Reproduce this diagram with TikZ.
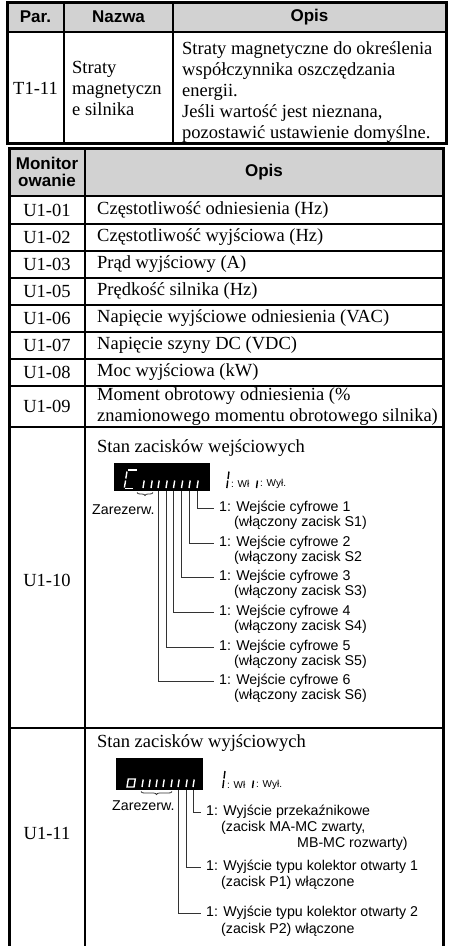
\documentclass[tikz,border=0pt]{standalone}
\usepackage{fontspec}
\setmainfont{Liberation Serif}
\newfontfamily\arialf{Liberation Sans}
\usetikzlibrary{decorations.pathreplacing}
\definecolor{hdrgray}{RGB}{210,210,210}
\tikzset{
  tabframe/.style={line width=3pt},
  tabrule/.style={line width=1.3pt},
  hdr/.style={font=\arialf\bfseries\fontsize{17}{18}\selectfont, inner sep=0pt, align=center},
  lbl/.style={font=\fontsize{18.5}{21}\selectfont, inner sep=0pt},
  txt/.style={font=\fontsize{18.5}{21}\selectfont, inner sep=0pt, anchor=west, align=left},
  labtxt/.style={font=\arialf\fontsize{14.2}{15}\selectfont, inner sep=0pt, anchor=west},
  legtxt/.style={font=\arialf\fontsize{10}{11}\selectfont, inner sep=0pt, anchor=west},
  lead/.style={line width=0.8pt, black!80},
  seg/.style={white, line width=1.4pt},
  segk/.style={black, line width=1.4pt},
  resbrace/.style={lead, decorate, decoration={brace, amplitude=3pt}},
}
\begin{document}
\begin{tikzpicture}[x=1pt,y=-1pt]
    \useasboundingbox (0,0) rectangle (451,946);
    % table T1-11
    \fill[hdrgray] (7,2) rectangle (446,32);
    \draw[tabrule] (7,32) -- (446,32);
    \draw[tabrule] (64,2) -- (64,143);
    \draw[tabrule] (173,2) -- (173,143);
    \draw[tabframe] (7,2) rectangle (446,143);
    \node[hdr] (hPar) at (35.5,17) {Par.};
    \node[hdr] (hNazwa) at (118.5,17) {Nazwa};
    \node[hdr] (hOpis) at (309.5,17) {Opis};
    \node[lbl] (pT) at (35.5,88) {T1-11};
    \node[txt] (pNazwa) at (72,88) {Straty\\magnetyczn\\e silnika};
    \node[txt] (pOpis) at (182,92) {Straty magnetyczne do określenia\\współczynnika oszczędzania\\energii.\\Jeśli wartość jest nieznana,\\pozostawić ustawienie domyślne.};
    % table U1
    \fill[hdrgray] (9,148) rectangle (443,196);
    \foreach \y in {196,224,251,278,305,332,359,386,427,728}
      \draw[tabrule] (9,\y) -- (443,\y);
    \draw[tabrule] (85,148) -- (85,953);
    \draw[tabframe] (9,148) rectangle (443,953);
    \node[hdr] (hMon) at (47,172) {Monitor\\[-1pt]owanie};
    \node[hdr] (hOpis2) at (264,172) {Opis};
    \node[lbl] (c01) at (47,210.5) {U1-01};
    \node[txt] (t01) at (97,210.5) {Częstotliwość odniesienia (Hz)};
    \node[lbl] (c02) at (47,237.5) {U1-02};
    \node[txt] (t02) at (97,237.5) {Częstotliwość wyjściowa (Hz)};
    \node[lbl] (c03) at (47,264.5) {U1-03};
    \node[txt] (t03) at (97,264.5) {Prąd wyjściowy (A)};
    \node[lbl] (c05) at (47,291.5) {U1-05};
    \node[txt] (t05) at (97,291.5) {Prędkość silnika (Hz)};
    \node[lbl] (c06) at (47,318.5) {U1-06};
    \node[txt] (t06) at (97,318.5) {Napięcie wyjściowe odniesienia (VAC)};
    \node[lbl] (c07) at (47,345.5) {U1-07};
    \node[txt] (t07) at (97,345.5) {Napięcie szyny DC (VDC)};
    \node[lbl] (c08) at (47,372.5) {U1-08};
    \node[txt] (t08) at (97,372.5) {Moc wyjściowa (kW)};
    \node[lbl] (c09) at (47,406.5) {U1-09};
    \node[txt] (t09) at (97,406.5) {Moment obrotowy odniesienia (\%\\znamionowego momentu obrotowego silnika)};
    \node[lbl] (c10) at (47,580) {U1-10};
    \node[txt] (t10) at (97,448) {Stan zacisków wejściowych};
    \node[lbl] (c11) at (47,833) {U1-11};
    \node[txt] (t11) at (97,743) {Stan zacisków wyjściowych};
    % U1-10 display
    \fill (114,463) rectangle (210,491);
    \draw[seg] (128,470) -- (136.5,470);
    \draw[seg] (127,471.5) -- (125.8,478.5);
    \draw[seg] (125.6,480.5) -- (124.4,487.5);
    \draw[seg] (125,488.5) -- (133,488.5);
    \foreach \x in {143,151,158,166,173.5,181.5,189,197}
      \draw[seg] (\x,488) -- (\x+1.2,480.5);
    \draw[segk] (229,471.5) -- (228,479);
    \draw[segk] (227.8,480.5) -- (226.8,488);
    \node[legtxt] (on1) at (231,484) {: Wł};
    \draw[segk] (257.5,480.5) -- (256.5,488);
    \node[legtxt] (off1) at (260,484) {: Wył.};
    \draw[resbrace] (153,492.5) -- (137,492.5);
    \node[labtxt] (res1) at (92,510) {Zarezerw.};
    \coordinate (s1) at (197,491);
    \coordinate (s2) at (189,491);
    \coordinate (s3) at (181.5,491);
    \coordinate (s4) at (173.5,491);
    \coordinate (s5) at (166,491);
    \coordinate (s6) at (158,491);
    \node[labtxt] (in1) at (219,508) {1: Wejście cyfrowe 1};
    \node[labtxt] (in1s) at (234,523) {(włączony zacisk S1)};
    \node[labtxt] (in2) at (219,543) {1: Wejście cyfrowe 2};
    \node[labtxt] (in2s) at (234,558) {(włączony zacisk S2};
    \node[labtxt] (in3) at (219,577) {1: Wejście cyfrowe 3};
    \node[labtxt] (in3s) at (234,592) {(włączony zacisk S3)};
    \node[labtxt] (in4) at (219,612) {1: Wejście cyfrowe 4};
    \node[labtxt] (in4s) at (234,627) {(włączony zacisk S4)};
    \node[labtxt] (in5) at (219,647) {1: Wejście cyfrowe 5};
    \node[labtxt] (in5s) at (234,662) {(włączony zacisk S5)};
    \node[labtxt] (in6) at (219,681) {1: Wejście cyfrowe 6};
    \node[labtxt] (in6s) at (234,696) {(włączony zacisk S6)};
    \draw[lead] (s1) |- ([xshift=-5pt]in1.west);
    \draw[lead] (s2) |- ([xshift=-5pt]in2.west);
    \draw[lead] (s3) |- ([xshift=-5pt]in3.west);
    \draw[lead] (s4) |- ([xshift=-5pt]in4.west);
    \draw[lead] (s5) |- ([xshift=-5pt]in5.west);
    \draw[lead] (s6) |- ([xshift=-5pt]in6.west);
    % U1-11 display
    \fill (116,758) rectangle (203,790);
    \draw[seg] (127,787) -- (128.3,779) -- (135.3,779) -- (134,787) -- cycle;
    \foreach \x in {142,149,156,163,171,178,186,193}
      \draw[seg] (\x,787) -- (\x+1.2,779.5);
    \draw[segk] (225,771) -- (224,778.5);
    \draw[segk] (223.8,780) -- (222.8,788);
    \node[legtxt] (on2) at (227,785) {: Wł};
    \draw[segk] (253.5,780.5) -- (252.5,788);
    \node[legtxt] (off2) at (256,785) {: Wył.};
    \draw[resbrace] (172,791.5) -- (141,791.5);
    \node[labtxt] (res2) at (112,806) {Zarezerw.};
    \coordinate (r1) at (193,790);
    \coordinate (r2) at (186,790);
    \coordinate (r3) at (178,790);
    \node[labtxt] (out1) at (206,812) {1: Wyjście przekaźnikowe};
    \node[labtxt] (out1a) at (221,828) {(zacisk MA-MC zwarty,};
    \node[labtxt] (out1b) at (297,844) {MB-MC rozwarty)};
    \node[labtxt] (out2) at (206,867) {1: Wyjście typu kolektor otwarty 1};
    \node[labtxt] (out2a) at (221,883) {(zacisk P1) włączone};
    \node[labtxt] (out3) at (206,913) {1: Wyjście typu kolektor otwarty 2};
    \node[labtxt] (out3a) at (221,930) {(zacisk P2) włączone};
    \draw[lead] (r1) |- ([xshift=-5pt]out1.west);
    \draw[lead] (r2) |- ([xshift=-5pt]out2.west);
    \draw[lead] (r3) |- ([xshift=-5pt]out3.west);
\end{tikzpicture}
\end{document}
